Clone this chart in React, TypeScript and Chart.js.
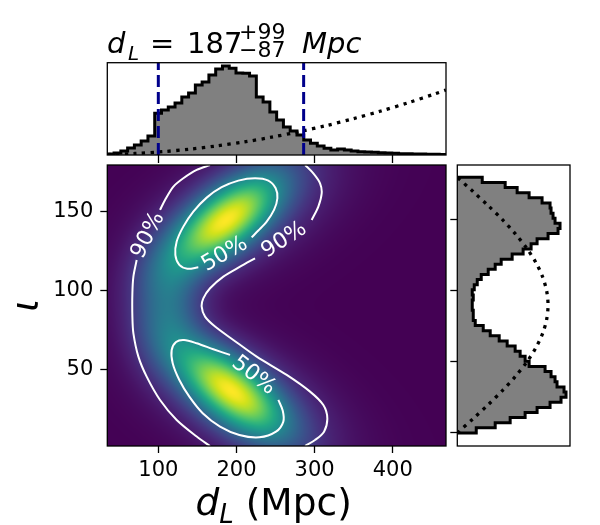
import React, { useEffect, useRef } from 'react';
import { Chart, registerables } from 'chart.js';

Chart.register(...registerables);

const FONT = '"DejaVu Sans", "Liberation Sans", sans-serif';

// Luminosity distance summary (Mpc)
const dlMedian = 187;
const dlErrPlus = 99;
const dlErrMinus = 87;

// Axis ranges and ticks
const dlRange = [34.7, 468.2];
const iotaRange = [1.3, 179.6];
const dlTicks = [100, 200, 300, 400];
const iotaTicks = [50, 100, 150];
const iotaHistTicks = [0, 50, 100, 150];
const iotaHistRange = [-9.2, 188.7];

// d_L marginal histogram, 50 bins across dlRange
const dlCounts = [1, 2, 4, 7, 10, 14, 19, 41.7, 45, 48, 52, 58, 62, 70, 73, 80, 86, 89, 86.7, 82,
  81.7, 79, 58, 53, 43, 35, 28, 24, 20, 15, 11.7, 9, 6.7, 5, 6, 5, 4, 3.3, 3, 2.7,
  2.3, 2, 1.7, 1.3, 1.3, 1, 1, 0.7, 0.7, 0.5];
const dlCountMax = 92.3;

// d_L prior curve
const dlPriorX = [35, 70, 105, 140, 175, 210, 245, 280, 315, 350, 385, 420, 455, 468];
const dlPriorY = [0.4, 1.5, 3.3, 5.8, 9.1, 13.1, 17.8, 23.3, 29.4, 36.4, 44.0, 52.3, 61.4, 65.0];

// inclination marginal histogram, 50 bins over 0..180 deg
const iotaBinRange = [0, 180];
const iotaCounts = [19, 38, 53, 68, 80, 93, 104, 109, 107, 100, 98, 94, 88, 72, 68, 63, 58, 50, 42, 33,
  26, 18, 16, 16, 15, 15, 16, 15, 17, 20, 24, 31, 38, 44, 55, 66, 74, 80, 91, 101,
  103, 98, 96, 94, 93, 85, 72, 60, 48, 25];
const iotaCountMax = 113;

// inclination prior curve
const iotaPriorX = [0, 10, 20, 30, 40, 50, 60, 70, 80, 90, 100, 110, 120, 130, 140, 150, 160, 170, 180];
const iotaPriorY = [0, 15.8, 31.1, 45.5, 58.5, 69.7, 78.8, 85.5, 89.6, 91, 89.6, 85.5, 78.8, 69.7, 58.5, 45.5, 31.1, 15.8, 0];

// joint density: Gaussian components (d_L, iota)
const compD = [185, 192, 112, 205, 210];
const compI = [144, 37, 90, 150, 30];
const compSdD = [50, 50, 30, 80, 80];
const compSdI = [21, 21, 24, 28, 28];
const compRho = [0.66, -0.66, 0, 0.5, -0.5];
const compW = [1, 1, 0.38, 0.22, 0.22];

// credible-region contours (d_L, iota), broken where the labels sit
const c90OuterTop = [[166.2, 179.6], [149.1, 176.5], [132.0, 171.2], [119.3, 165.9], [108.6, 157.4], [102.2, 151.1]];
const c90OuterBottom = [[72.3, 119.3], [68.1, 108.8], [66.8, 98.2], [66.8, 83.4], [68.1, 72.8], [74.5, 58.0], [85.1, 45.3],
  [102.2, 30.5], [123.5, 17.8], [149.1, 7.3], [166.2, 1.3]];
const c90InnerTop = [[287.8, 179.6], [298.4, 174.3], [307.0, 168.0], [309.1, 161.7], [304.8, 153.2], [296.3, 144.7]];
const c90InnerBottom = [[223.8, 120.4], [204.6, 115.1], [183.2, 108.8], [166.2, 101.4], [157.6, 95.0], [155.5, 89.7],
  [159.8, 83.4], [172.6, 77.1], [196.0, 68.6], [225.9, 58.0], [264.3, 46.4], [294.2, 35.8], [311.2, 27.3],
  [316.3, 18.9], [312.1, 10.4], [300.6, 5.1], [287.8, 1.3]];
const c50Upper = [[151.2, 114.7], [137.2, 113.8], [126.9, 116.2], [121.8, 122.5], [123.5, 131.0], [132.0, 140.5],
  [144.8, 150.0], [161.9, 158.9], [181.1, 165.5], [202.4, 169.7], [223.8, 171.2], [240.8, 169.7], [250.2, 164.8],
  [252.4, 158.5], [248.1, 151.1], [238.7, 143.7], [228.0, 138.0], [219.5, 133.7]];
const c50Lower = [[191.8, 59.1], [170.4, 62.7], [149.1, 66.5], [132.9, 68.6], [122.7, 67.3], [117.1, 62.2], [118.4, 53.8],
  [126.9, 43.2], [139.7, 32.6], [156.8, 22.1], [179.0, 13.6], [203.7, 8.3], [229.3, 6.8], [250.6, 10.4],
  [260.0, 16.8], [259.2, 23.8], [253.6, 30.5]];

// contour labels: text, d_L, iota, rotation (deg)
const contourLabels: [string, number, number, number][] = [
  ['90%', 87, 135, -63],
  ['90%', 261, 132, -33],
  ['50%', 185, 123, -30],
  ['50%', 222, 46, 38],
];

const VIRIDIS = ['#440154', '#481a6c', '#472f7d', '#414487', '#39568c', '#31688e', '#2a788e', '#23888e',
  '#1f988b', '#22a884', '#35b779', '#54c568', '#7ad151', '#a5db36', '#d2e21b', '#fde725'];
const VIR_RGB = VIRIDIS.map((h) => [1, 3, 5].map((i) => parseInt(h.slice(i, i + 2), 16)));

function viridis(t: number): number[] {
  const u = Math.min(1, Math.max(0, t)) * (VIR_RGB.length - 1);
  const k = Math.min(VIR_RGB.length - 2, Math.floor(u));
  const f = u - k;
  const a = VIR_RGB[k], b = VIR_RGB[k + 1];
  return [a[0] + (b[0] - a[0]) * f, a[1] + (b[1] - a[1]) * f, a[2] + (b[2] - a[2]) * f];
}

function density(d: number, i: number): number {
  let s = 0;
  for (let k = 0; k < compW.length; k++) {
    const zd = (d - compD[k]) / compSdD[k];
    const zi = (i - compI[k]) / compSdI[k];
    const r = compRho[k];
    s += compW[k] * Math.exp(-0.5 * (zd * zd + zi * zi - 2 * r * zd * zi) / (1 - r * r));
  }
  return s;
}

function binEdges(lo: number, hi: number, n: number): number[] {
  const e: number[] = [];
  for (let k = 0; k <= n; k++) e.push(lo + ((hi - lo) * k) / n);
  return e;
}

// outline of a step histogram as (position, count) vertices
function stepVertices(edges: number[], counts: number[]): [number, number][] {
  const v: [number, number][] = [[edges[0], 0]];
  counts.forEach((c, k) => {
    v.push([edges[k], c]);
    v.push([edges[k + 1], c]);
  });
  v.push([edges[edges.length - 1], 0]);
  return v;
}

// keep scale boxes at a fixed size with no extra label padding
function fixSize(dim: 'width' | 'height', size: number) {
  return (s: any) => {
    s[dim] = size;
    s.paddingTop = 0;
    s.paddingBottom = 0;
    s.paddingLeft = 0;
    s.paddingRight = 0;
  };
}

const framePlugin = {
  id: 'frame',
  afterDraw(chart: any) {
    const { ctx, chartArea: a } = chart;
    ctx.save();
    ctx.strokeStyle = '#000';
    ctx.lineWidth = 1.3;
    ctx.strokeRect(a.left, a.top, a.right - a.left, a.bottom - a.top);
    ctx.restore();
  },
};

const heatmapPlugin = {
  id: 'heatmap',
  beforeDatasetsDraw(chart: any) {
    const { ctx, chartArea: a, scales } = chart;
    const xs = scales.x, ys = scales.y;
    const W = a.right - a.left, H = a.bottom - a.top;
    const w = Math.round(W), h = Math.round(H);
    const off = document.createElement('canvas');
    off.width = w;
    off.height = h;
    const octx = off.getContext('2d')!;
    const img = octx.createImageData(w, h);
    const vals = new Float64Array(w * h);
    let max = 0;
    for (let j = 0; j < h; j++) {
      const iota = ys.getValueForPixel(a.top + ((j + 0.5) * H) / h);
      for (let i = 0; i < w; i++) {
        const d = xs.getValueForPixel(a.left + ((i + 0.5) * W) / w);
        const v = density(d, iota);
        vals[j * w + i] = v;
        if (v > max) max = v;
      }
    }
    for (let p = 0; p < w * h; p++) {
      const c = viridis(vals[p] / max);
      img.data[p * 4] = c[0];
      img.data[p * 4 + 1] = c[1];
      img.data[p * 4 + 2] = c[2];
      img.data[p * 4 + 3] = 255;
    }
    octx.putImageData(img, 0, 0);
    ctx.save();
    ctx.imageSmoothingEnabled = true;
    ctx.drawImage(off, a.left, a.top, W, H);
    ctx.restore();
  },
};

const contourLabelPlugin = {
  id: 'contourLabels',
  afterDatasetsDraw(chart: any) {
    const { ctx, scales } = chart;
    ctx.save();
    ctx.fillStyle = '#fff';
    ctx.font = `22px ${FONT}`;
    ctx.textAlign = 'center';
    ctx.textBaseline = 'middle';
    contourLabels.forEach(([txt, d, i, rot]) => {
      ctx.save();
      ctx.translate(scales.x.getPixelForValue(d), scales.y.getPixelForValue(i));
      ctx.rotate((rot * Math.PI) / 180);
      ctx.fillText(txt, 0, 0);
      ctx.restore();
    });
    ctx.restore();
  },
};

// run of text, returns new x
function textRun(ctx: CanvasRenderingContext2D, s: string, font: string, x: number, y: number): number {
  ctx.font = font;
  ctx.fillText(s, x, y);
  return x + ctx.measureText(s).width;
}

const axisTitlePlugin = {
  id: 'axisTitles',
  afterDraw(chart: any) {
    const { ctx, chartArea: a } = chart;
    ctx.save();
    ctx.fillStyle = '#000';
    ctx.textBaseline = 'alphabetic';
    ctx.textAlign = 'left';
    const big = `37.5px ${FONT}`, bigIt = `italic 37.5px ${FONT}`, subIt = `italic 26px ${FONT}`;
    ctx.font = bigIt;
    const w1 = ctx.measureText('d').width;
    ctx.font = subIt;
    const w2 = ctx.measureText('L').width;
    ctx.font = big;
    const w3 = ctx.measureText(' (Mpc)').width;
    const total = w1 + w2 + w3;
    let x = (a.left + a.right) / 2 - total / 2 - 3;
    const base = 365;
    x = textRun(ctx, 'd', bigIt, x, base);
    x = textRun(ctx, 'L', subIt, x, base + 8);
    textRun(ctx, ' (Mpc)', big, x, base);
    // inclination label
    ctx.translate(28, (a.top + a.bottom) / 2);
    ctx.rotate(-Math.PI / 2);
    ctx.textAlign = 'center';
    ctx.textBaseline = 'middle';
    ctx.font = bigIt;
    ctx.fillText('\u03b9', 0, 0);
    ctx.restore();
  },
};

const titlePlugin = {
  id: 'dlTitle',
  afterDraw(chart: any) {
    const { ctx } = chart;
    ctx.save();
    ctx.fillStyle = '#000';
    ctx.textBaseline = 'alphabetic';
    ctx.textAlign = 'left';
    const base = 53;
    const rm = `29px ${FONT}`, it = `italic 29px ${FONT}`, sm = `22px ${FONT}`, smIt = `italic 20px ${FONT}`;
    textRun(ctx, 'd', it, 107, base);
    textRun(ctx, 'L', smIt, 128, base + 7);
    textRun(ctx, '=', rm, 150, base);
    textRun(ctx, String(dlMedian), rm, 187, base);
    textRun(ctx, '+' + dlErrPlus, sm, 239, base - 14.5);
    textRun(ctx, '\u2212' + dlErrMinus, sm, 239, base + 4);
    textRun(ctx, 'Mpc', it, 302, base);
    ctx.restore();
  },
};

const tickFont = { family: FONT, size: 21 };
const axisGrid = { drawOnChartArea: false, tickLength: 7, tickColor: '#000', tickWidth: 1.3 };

function toXY(pts: number[][]) {
  return pts.map(([x, y]) => ({ x, y }));
}

function makeMain(canvas: HTMLCanvasElement) {
  const contours = [c90OuterTop, c90OuterBottom, c90InnerTop, c90InnerBottom, c50Upper, c50Lower];
  return new Chart(canvas, {
    type: 'line',
    data: {
      datasets: contours.map((c) => ({
        data: toXY(c),
        borderColor: '#ffffff',
        borderWidth: 2,
        pointRadius: 0,
        tension: 0.3,
        fill: false,
      })),
    },
    options: {
      responsive: false,
      animation: false,
      events: [],
      layout: { padding: { top: 15, right: 9, left: 0, bottom: 0 } },
      plugins: { legend: { display: false }, tooltip: { enabled: false } },
      scales: {
        x: {
          type: 'linear',
          min: dlRange[0],
          max: dlRange[1],
          afterFit: fixSize('height', 79),
          afterBuildTicks: (s: any) => { s.ticks = dlTicks.map((value) => ({ value })); },
          ticks: { font: tickFont, color: '#000', padding: 5, maxRotation: 0 },
          grid: axisGrid,
          border: { display: false },
        },
        y: {
          type: 'linear',
          min: iotaRange[0],
          max: iotaRange[1],
          afterFit: fixSize('width', 107.3),
          afterBuildTicks: (s: any) => { s.ticks = iotaTicks.map((value) => ({ value })); },
          ticks: { font: tickFont, color: '#000', padding: 7 },
          grid: axisGrid,
          border: { display: false },
        },
      },
    } as any,
    plugins: [heatmapPlugin, contourLabelPlugin, framePlugin, axisTitlePlugin],
  });
}

function makeTop(canvas: HTMLCanvasElement) {
  const edges = binEdges(dlRange[0], dlRange[1], dlCounts.length);
  const lo = dlMedian - dlErrMinus, hi = dlMedian + dlErrPlus;
  const dash = (v: number) => ({
    data: [{ x: v, y: 0 }, { x: v, y: dlCountMax }],
    borderColor: '#00008b',
    borderWidth: 3,
    borderDash: [12, 5],
    pointRadius: 0,
    fill: false,
  });
  return new Chart(canvas, {
    type: 'line',
    data: {
      datasets: [
        dash(lo),
        dash(hi),
        {
          data: dlPriorX.map((x, k) => ({ x, y: dlPriorY[k] })),
          borderColor: '#000',
          borderWidth: 3.3,
          borderDash: [3.3, 5.3],
          pointRadius: 0,
          tension: 0.3,
          fill: false,
        },
        {
          data: toXY(stepVertices(edges, dlCounts)),
          borderColor: '#000',
          borderWidth: 3,
          backgroundColor: '#808080',
          pointRadius: 0,
          tension: 0,
          fill: 'origin',
        },
      ],
    },
    options: {
      responsive: false,
      animation: false,
      events: [],
      layout: { padding: { top: 62.7, right: 9, left: 107.3, bottom: 0 } },
      plugins: { legend: { display: false }, tooltip: { enabled: false } },
      scales: {
        x: {
          type: 'linear',
          min: dlRange[0],
          max: dlRange[1],
          afterFit: fixSize('height', 10),
          afterBuildTicks: (s: any) => { s.ticks = dlTicks.map((value) => ({ value })); },
          ticks: { display: false },
          grid: { ...axisGrid, tickLength: 8 },
          border: { display: false },
        },
        y: { type: 'linear', min: 0, max: dlCountMax, display: false },
      },
    } as any,
    plugins: [framePlugin, titlePlugin],
  });
}

function makeRight(canvas: HTMLCanvasElement) {
  const edges = binEdges(iotaBinRange[0], iotaBinRange[1], iotaCounts.length);
  const verts = stepVertices(edges, iotaCounts).map(([pos, c]) => ({ x: c, y: pos }));
  return new Chart(canvas, {
    type: 'line',
    data: {
      datasets: [
        {
          data: iotaPriorX.map((y, k) => ({ x: iotaPriorY[k], y })),
          borderColor: '#000',
          borderWidth: 3.3,
          borderDash: [3.3, 5.3],
          pointRadius: 0,
          tension: 0.3,
          fill: false,
        },
        {
          data: verts,
          borderColor: '#000',
          borderWidth: 3,
          backgroundColor: '#808080',
          pointRadius: 0,
          tension: 0,
          fill: 'origin',
        },
      ],
    },
    options: {
      indexAxis: 'y',
      responsive: false,
      animation: false,
      events: [],
      layout: { padding: { top: 15, right: 30, left: 0, bottom: 14 } },
      plugins: { legend: { display: false }, tooltip: { enabled: false } },
      scales: {
        x: { type: 'linear', min: 0, max: iotaCountMax, display: false },
        y: {
          type: 'linear',
          position: 'left',
          min: iotaHistRange[0],
          max: iotaHistRange[1],
          afterFit: fixSize('width', 10.3),
          afterBuildTicks: (s: any) => { s.ticks = iotaHistTicks.map((value) => ({ value })); },
          ticks: { display: false },
          grid: axisGrid,
          border: { display: false },
        },
      },
    } as any,
    plugins: [framePlugin],
  });
}

export default function App() {
  const topRef = useRef<HTMLCanvasElement>(null);
  const mainRef = useRef<HTMLCanvasElement>(null);
  const rightRef = useRef<HTMLCanvasElement>(null);

  useEffect(() => {
    const charts = [makeTop(topRef.current!), makeMain(mainRef.current!), makeRight(rightRef.current!)];
    return () => charts.forEach((c) => c.destroy());
  }, []);

  return (
    <div style={{ position: 'absolute', left: 0, top: 0, width: 600, height: 525, background: '#fff', overflow: 'hidden' }}>
      <canvas ref={topRef} width={455} height={165} style={{ position: 'absolute', left: 0, top: 0 }} />
      <canvas ref={mainRef} width={455} height={375} style={{ position: 'absolute', left: 0, top: 150 }} />
      <canvas ref={rightRef} width={153} height={310} style={{ position: 'absolute', left: 447, top: 150 }} />
    </div>
  );
}
